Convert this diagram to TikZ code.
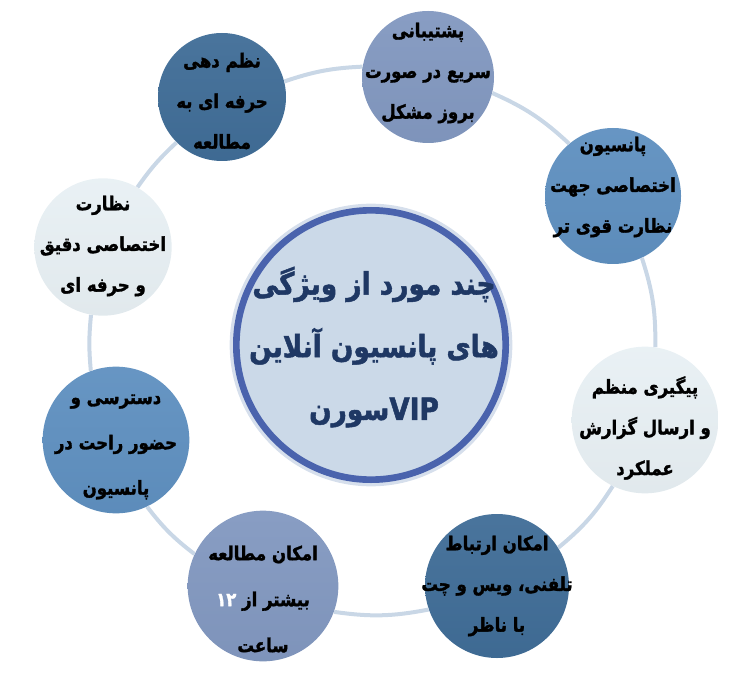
\documentclass[tikz,border=0pt]{standalone}
\usepackage{fontspec}
\newfontfamily\arabicfont[Script=Arabic,FakeStretch=0.86,BoldFeatures={FakeBold=1.6}]{DejaVu Sans}
\TeXXeTstate=1
\newcommand{\fa}[1]{\beginR #1\endR}
\definecolor{ringblue}{HTML}{C9D7E6}
\definecolor{hubfill}{HTML}{CBD9E8}
\definecolor{hubring}{HTML}{4A63AD}
\definecolor{hubhalo}{HTML}{D6DFEC}
\definecolor{hubtext}{HTML}{1F3864}
\definecolor{periblue}{HTML}{8298C0}
\definecolor{steelblue}{HTML}{5F90C0}
\definecolor{paleblue}{HTML}{E8F0F4}
\definecolor{darkblue}{HTML}{406D97}
\begin{document}
\begin{tikzpicture}[x=0.75pt,y=-0.75pt,
  bubble/.style={circle,inner sep=0pt,top color=#1!95!white,bottom color=#1!97!black},
  bubbletext/.style={font=\arabicfont\bfseries\fontsize{14.4}{#1}\selectfont,align=center,text=black},
  bubbletext/.default=30.5,
  ringline/.style={draw=ringblue,line width=3pt}]
  \useasboundingbox (0,0) rectangle (748,680);
  % hub
  \node[circle,inner sep=0pt,minimum size=202pt,fill=hubfill,draw=hubring,line width=5pt,
    preaction={draw=hubhalo,line width=10pt}] (hub) at (371,345) {};
  \node[font=\arabicfont\bfseries\fontsize{23}{47}\selectfont,align=center,text=hubtext] (hubtitle) at (374,347)
    {\fa{چند مورد از ویژگی}\\\fa{های پانسیون آنلاین}\\\fa{\beginL VIP\endL سورن}};
  % ring of bubbles
  \node[bubble=periblue,minimum size=99pt] (support) at (428,77) {};
  \node[bubble=steelblue,minimum size=102pt] (dorm) at (613,196) {};
  \node[bubble=paleblue,minimum size=110pt] (report) at (645,420) {};
  \node[bubble=darkblue,minimum size=108pt] (call) at (497,586) {};
  \node[bubble=periblue,minimum size=113pt] (study) at (263,586) {};
  \node[bubble=steelblue,minimum size=110pt] (access) at (116,440) {};
  \node[bubble=paleblue,minimum size=103pt] (watch) at (103,247) {};
  \node[bubble=darkblue,minimum size=96pt] (order) at (222,97) {};
  % texts
  \node[bubbletext] (supporttext) at (428,73) {\fa{پشتیبانی}\\\fa{سریع در صورت}\\\fa{بروز مشکل}};
  \node[bubbletext] (dormtext) at (613,187) {\fa{پانسیون}\\\fa{اختصاصی جهت}\\\fa{نظارت قوی تر}};
  \node[bubbletext] (reporttext) at (645,428) {\fa{پیگیری منظم}\\\fa{و ارسال گزارش}\\\fa{عملکرد}};
  \node[bubbletext] (calltext) at (497,586) {\fa{امکان ارتباط}\\\fa{تلفنی، ویس و چت}\\\fa{با ناظر}};
  \node[bubbletext=34.5] (studytext) at (263,599) {\fa{امکان مطالعه}\\\fa{بیشتر از \beginL\textcolor{white}{۱۲}\endL}\\\fa{ساعت}};
  \node[bubbletext=34] (accesstext) at (116,447) {\fa{دسترسی و}\\\fa{حضور راحت در}\\\fa{پانسیون}};
  \node[bubbletext] (watchtext) at (103,246) {\fa{نظارت}\\\fa{اختصاصی دقیق}\\\fa{و حرفه ای}};
  \node[bubbletext] (ordertext) at (222,101) {\fa{نظم دهی}\\\fa{حرفه ای به}\\\fa{مطالعه}};
  % arcs between bubbles
  \foreach \from/\outa/\to/\ina/\bend in {support/-14/dorm/130/9.5,dorm/-65/report/82/9.5,
      report/-116/call/32/9,call/199/study/-20.5/9.5,study/155.5/access/-65/7.5,
      access/110/watch/-100/5.5,watch/60/order/225/6,order/14.7/support/171/8}
    \draw[ringline] (\from.\outa) to[bend left=\bend] (\to.\ina);
\end{tikzpicture}
\end{document}
